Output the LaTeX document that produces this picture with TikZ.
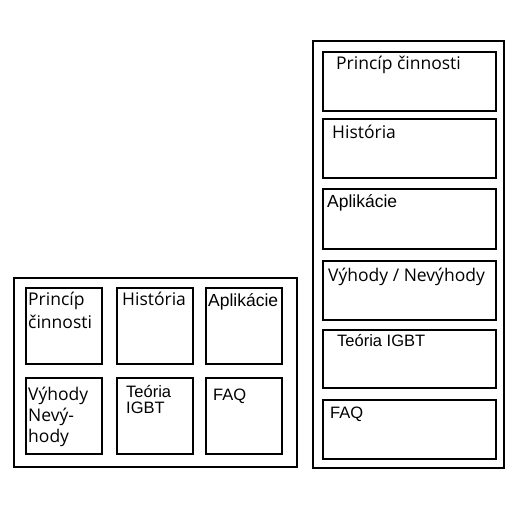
\documentclass[tikz,border=0pt]{standalone}
\usepackage{fontspec}
\setmainfont{Open Sans}
\newfontfamily\arialf{Liberation Sans}
\begin{document}
\begin{tikzpicture}[x=1pt,y=-1pt,
  frame/.style={draw, line width=2pt, inner sep=0pt, anchor=north west},
  lbl/.style={anchor=base west, inner sep=0pt, font=\fontsize{17.5}{20}\selectfont},
  albl/.style={anchor=base west, inner sep=0pt, font=\arialf\fontsize{16.5}{18}\selectfont},
  alblb/.style={anchor=base west, inner sep=0pt, font=\arialf\fontsize{17.5}{18}\selectfont}]
\useasboundingbox (0,0) rectangle (512,512);
% left panel
\node[frame, minimum width=283pt, minimum height=189pt] (L) at (13,277) {};
\node[frame, minimum width=76pt, minimum height=76pt] (L1) at (25,287) {};
\node[frame, minimum width=76pt, minimum height=76pt] (L2) at (116,287) {};
\node[frame, minimum width=76pt, minimum height=76pt] (L3) at (205,287) {};
\node[frame, minimum width=76pt, minimum height=76pt] (L4) at (25,377) {};
\node[frame, minimum width=76pt, minimum height=76pt] (L5) at (116,377) {};
\node[frame, minimum width=76pt, minimum height=76pt] (L6) at (205,377) {};
\node[lbl] (t1a) at (28,305) {Princíp};
\node[lbl] (t1b) at (28,328) {činnosti};
\node[lbl] (t2) at (122,305) {História};
\node[alblb] (t3) at (208,306) {Aplikácie};
\node[lbl] (t4a) at (28,400) {Výhody};
\node[lbl] (t4b) at (28,421) {Nevý-};
\node[lbl] (t4c) at (28,442) {hody};
\node[albl] (t5a) at (126,397) {Teória};
\node[albl] (t5b) at (126,413) {IGBT};
\node[albl] (t6) at (213,400) {FAQ};
% right panel
\node[frame, minimum width=191pt, minimum height=427pt] (R) at (312,40) {};
\node[frame, minimum width=173pt, minimum height=59pt] (R1) at (322,51) {};
\node[frame, minimum width=173pt, minimum height=59pt] (R2) at (322,118) {};
\node[frame, minimum width=173pt, minimum height=60pt] (R3) at (322,188) {};
\node[frame, minimum width=173pt, minimum height=59pt] (R4) at (322,260) {};
\node[frame, minimum width=173pt, minimum height=58pt] (R5) at (322,329) {};
\node[frame, minimum width=173pt, minimum height=59pt] (R6) at (322,399) {};
\node[lbl] (r1) at (336,69) {Princíp činnosti};
\node[lbl] (r2) at (332,138) {História};
\node[alblb] (r3) at (327,207) {Aplikácie};
\node[lbl] (r4) at (328,281) {Výhody / Nevýhody};
\node[albl] (r5) at (337,346) {Teória IGBT};
\node[albl] (r6) at (330,418) {FAQ};
\end{tikzpicture}
\end{document}
